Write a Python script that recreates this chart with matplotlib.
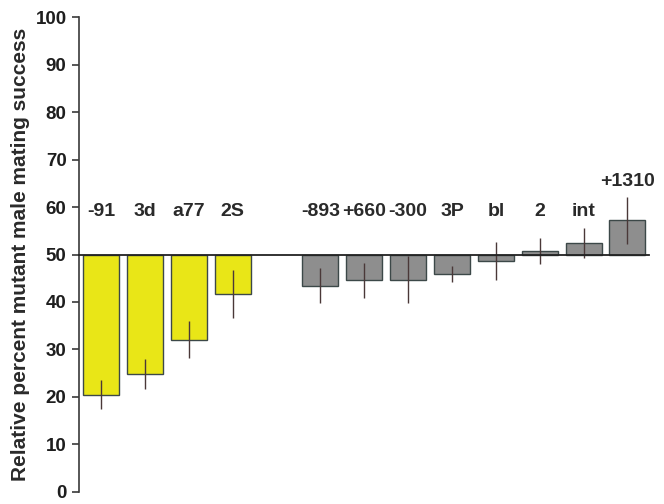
import matplotlib
matplotlib.use('Agg')
import matplotlib.pyplot as plt
import numpy as np

# ─── Data ────────────────────────────────────────────────────────────────────
labels = ["-91", "3d", "a77", "2S", "-893", "+660", "-300", "3P", "bl", "2", "int", "+1310"]
values = [20.5, 24.8, 32.1, 41.7, 43.4, 44.6, 44.7, 45.9, 48.7, 50.7, 52.4, 57.2]
errors = [3.0, 3.1, 4.0, 5.0, 3.7, 3.7, 5.0, 1.7, 4.0, 2.8, 3.2, 5.0]
positions = [0, 1, 2, 3, 5, 6, 7, 8, 9, 10, 11, 12]
yellow_n = 4

BASE = 50
YELLOW = "#E9E617"
GRAY = "#8E8E8E"
EDGE = "#3C4848"
ERR = "#4A3838"

plt.rcParams['font.family'] = ['Liberation Sans', 'DejaVu Sans']

fig = plt.figure(figsize=(6.64, 5.04), dpi=100)
ax = fig.add_axes([0.119, 0.024, 0.859, 0.942])

colors = [YELLOW] * yellow_n + [GRAY] * (len(labels) - yellow_n)
heights = [v - BASE for v in values]
ax.bar(positions, heights, bottom=BASE, width=0.82, color=colors,
       edgecolor=EDGE, linewidth=1.0, zorder=2)
ax.errorbar(positions, values, yerr=errors, fmt='none', ecolor=ERR,
            elinewidth=1.0, capsize=0, zorder=3)

# baseline at 50
ax.plot([-0.5, 12.5], [BASE, BASE], color='#222222', lw=1.3, zorder=4,
        clip_on=False)

# labels above
for p, lab, v, e in zip(positions, labels, values, errors):
    y = 59 if v + e < 58 else v + e + 3.2
    ax.text(p, y, lab, ha='center', va='center', fontsize=14,
            fontweight='bold', color='#2a2a2a')

ax.set_xlim(-0.5, 12.5)
ax.set_ylim(0, 100)
ax.set_yticks(np.arange(0, 101, 10))
ax.set_xticks([])
for s in ['top', 'right', 'bottom']:
    ax.spines[s].set_visible(False)
ax.spines['left'].set_color('#3a3a3a')
ax.spines['left'].set_linewidth(1.2)
ax.tick_params(axis='y', direction='out', length=5, width=1.2, color='#3a3a3a',
               labelsize=13.5, pad=4)
for t in ax.get_yticklabels():
    t.set_fontweight('bold')
    t.set_color('#1e1e1e')
ax.set_ylabel("Relative percent mutant male mating success", fontsize=15,
              fontweight='bold', color='#2a2a2a', labelpad=4)

fig.savefig("out.png", dpi=100, facecolor='white')
